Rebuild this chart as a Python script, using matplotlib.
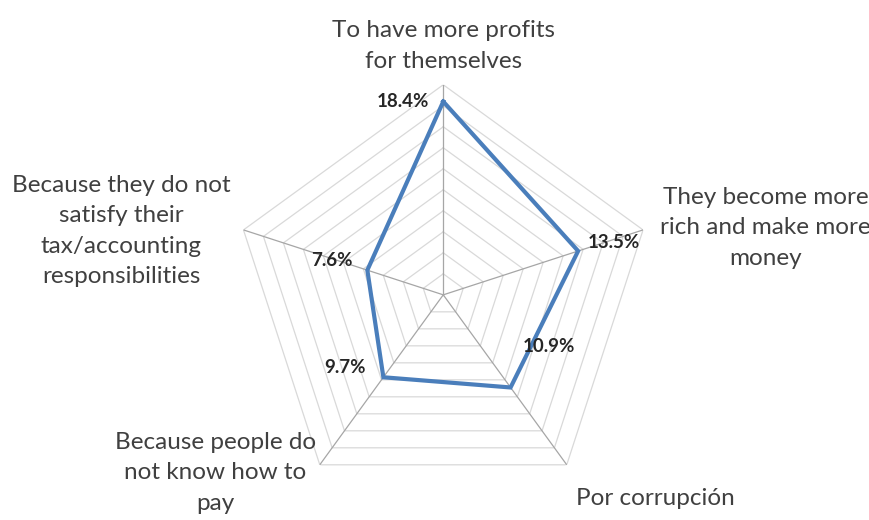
#!/usr/bin/env python3

"""
Radar chart: reasons people think others avoid paying taxes.
"""

import numpy as np
import matplotlib
matplotlib.use('Agg')
import matplotlib.pyplot as plt

#data
categories = ['To have more profits\nfor themselves',
              'They become more\nrich and make more\nmoney',
              'Por corrupción',
              'Because people do\nnot know how to\npay',
              'Because they do not\nsatisfy their\ntax/accounting\nresponsibilities']
values = [18.4, 13.5, 10.9, 9.7, 7.6]
value_labels = ['18.4%', '13.5%', '10.9%', '9.7%', '7.6%']

#constants
RMAX = 20
STEP = 2
LINE_COLOR = '#4a7ebb'
FONT = ['Lato', 'DejaVu Sans']

plt.rcParams['font.family'] = FONT


def main():
    n = len(categories)
    theta = np.linspace(0, 2 * np.pi, n, endpoint=False)
    closed = np.append(theta, theta[0])

    fig = plt.figure(figsize=(8.7, 5.2), dpi=100)
    ax = fig.add_axes([0.268, 0.029, 0.483, 0.808], projection='polar')
    ax.set_theta_offset(np.pi / 2)
    ax.set_theta_direction(-1)
    ax.set_ylim(0, RMAX)
    ax.grid(False)
    ax.spines['polar'].set_visible(False)
    ax.set_xticks([])
    ax.set_yticks([])
    ax.patch.set_alpha(0)

    #pentagon gridlines
    for r in np.arange(STEP, RMAX + STEP, STEP):
        ax.plot(closed, [r] * (n + 1), color='#d9d9d9', lw=0.9, zorder=1)
    #spokes
    for t in theta:
        ax.plot([t, t], [0, RMAX], color='#a6a6a6', lw=0.9, zorder=1)

    #series
    ax.plot(closed, values + values[:1], color=LINE_COLOR, lw=3,
            solid_joinstyle='miter', zorder=3)

    #data labels
    offsets = [(-14, 0, 'right'), (10, 9, 'left'), (12, 41, 'left'),
               (-18, 10, 'right'), (-15, 10, 'right')]
    for t, v, lab, (dx, dy, ha) in zip(theta, values, value_labels, offsets):
        ax.annotate(lab, (t, v), xytext=(dx, dy), textcoords='offset pixels',
                    ha=ha, va='center', fontsize=13.5, fontweight='bold',
                    color='#262626', zorder=4)

    #category labels, anchored at the outer vertex
    cat_pos = [('center', 'bottom', 0, 13),
               ('left', 'center', 17, 2),
               ('left', 'center', 9, -34),
               ('right', 'center', -4, -8),
               ('right', 'center', -13, -1)]
    for t, lab, (ha, va, dx, dy) in zip(theta, categories, cat_pos):
        ax.annotate(lab, (t, RMAX), xytext=(dx, dy),
                    textcoords='offset pixels', ha=ha, va=va,
                    multialignment='center', fontsize=17.5, color='#404040',
                    linespacing=1.55, annotation_clip=False)

    fig.savefig('out.png', dpi=100)


if __name__ == '__main__':
    main()
